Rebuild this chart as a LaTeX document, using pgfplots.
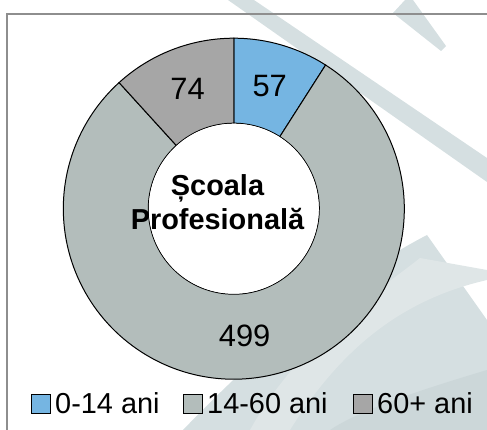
\documentclass[border=0pt]{standalone}
\usepackage{fontspec}
\setmainfont{Liberation Sans}
\newfontfamily\lsans{Liberation Sans}
\usepackage{pgfplots}
\usepackage{pgfplotstable}
\pgfplotsset{compat=1.18}
\definecolor{cA}{HTML}{75B5E2}
\definecolor{cB}{HTML}{B3BDBB}
\definecolor{cC}{HTML}{A6A6A6}
\definecolor{wm}{HTML}{D5DFE1}
\definecolor{wmlight}{HTML}{DFE6E7}
\definecolor{wmdark}{HTML}{CCD7D9}
\definecolor{framec}{HTML}{8E8E8E}

\pgfplotstableread{
label value
0-14 57
14-60 499
60+ 74
}\donutdata

\begin{document}
\begin{tikzpicture}
\path[use as bounding box] (0,0) rectangle (487bp,430bp);
\pgfplotstablegetelem{0}{value}\of\donutdata \edef\va{\pgfplotsretval}
\pgfplotstablegetelem{1}{value}\of\donutdata \edef\vb{\pgfplotsretval}
\pgfplotstablegetelem{2}{value}\of\donutdata \edef\vc{\pgfplotsretval}
\pgfmathsetmacro\tot{\va+\vb+\vc}
\pgfmathsetmacro\aA{90}
\pgfmathsetmacro\aB{\aA-360*(\va/\tot)}
\pgfmathsetmacro\aC{\aB-360*(\vb/\tot)}
\pgfmathsetmacro\aD{\aC-360*(\vc/\tot)}
\pgfmathsetmacro\mA{(\aA+\aB)/2}
\pgfmathsetmacro\mB{(\aB+\aC)/2}
\pgfmathsetmacro\mC{(\aC+\aD)/2}
\def\Ro{170.5bp}
\def\Ri{85.5bp}
\def\Rm{128bp}
\begin{axis}[scale only axis, width=487bp, height=430bp,
  xmin=0, xmax=487, ymin=0, ymax=430, hide axis, clip=true,
  at={(0,0)}, anchor=south west]
% watermark background
\fill[wm] (axis cs:228,430) -- (axis cs:254,430) -- (axis cs:487,272) -- (axis cs:487,248) -- cycle;
\fill[wm] (axis cs:393,417) -- (axis cs:405,430) -- (axis cs:413,430) -- (axis cs:446,384) -- (axis cs:441,379) -- cycle;
\fill[wm] (axis cs:427,195) .. controls (axis cs:340,150) and (axis cs:250,70) .. (axis cs:183,0) -- (axis cs:487,0) -- (axis cs:487,110) -- cycle;
\fill[wmlight] (axis cs:420,172) .. controls (axis cs:380,140) and (axis cs:300,90) .. (axis cs:250,0) -- (axis cs:290,0) .. controls (axis cs:340,80) and (axis cs:400,130) .. (axis cs:487,150) -- (axis cs:487,160) -- cycle;
\fill[wmdark] (axis cs:487,60) .. controls (axis cs:420,40) and (axis cs:360,20) .. (axis cs:330,0) -- (axis cs:487,0) -- cycle;
% frame
\draw[framec, line width=1.5bp] (axis cs:7,0) -- (axis cs:7,416) -- (axis cs:487,416);
% donut
\begin{scope}[shift={(axis cs:233.8,221.3)}]
\filldraw[fill=cA, draw=black, line width=1bp] (\aA:\Ro) arc[start angle=\aA, end angle=\aB, radius=\Ro] -- (\aB:\Ri) arc[start angle=\aB, end angle=\aA, radius=\Ri] -- cycle;
\filldraw[fill=cB, draw=black, line width=1bp] (\aB:\Ro) arc[start angle=\aB, end angle=\aC, radius=\Ro] -- (\aC:\Ri) arc[start angle=\aC, end angle=\aB, radius=\Ri] -- cycle;
\filldraw[fill=cC, draw=black, line width=1bp] (\aC:\Ro) arc[start angle=\aC, end angle=\aD, radius=\Ro] -- (\aD:\Ri) arc[start angle=\aD, end angle=\aC, radius=\Ri] -- cycle;
\fill[white] (0,0) circle[radius=\Ri-0.5bp];
\node[inner sep=0] at (\mA:\Rm) {\fontsize{31}{36}\selectfont\va};
\node[inner sep=0] at (\mB:\Rm) {\fontsize{31}{36}\selectfont\vb};
\node[inner sep=0] at (\mC:\Rm) {\fontsize{31}{36}\selectfont\vc};
\end{scope}
% centre label
\node[anchor=base, inner sep=0] at (axis cs:217.5,235) {\lsans\bfseries\fontsize{29}{34}\selectfont Școala};
\node[anchor=base, inner sep=0] at (axis cs:217.5,201) {\lsans\bfseries\fontsize{29}{34}\selectfont Profesională};
% legend
\draw[fill=cA, draw=black, line width=0.8bp] (axis cs:31,17) rectangle (axis cs:50,36);
\node[anchor=base west, inner sep=0] at (axis cs:55,17) {\fontsize{29}{34}\selectfont 0-14 ani};
\draw[fill=cB, draw=black, line width=0.8bp] (axis cs:183,17) rectangle (axis cs:202,36);
\node[anchor=base west, inner sep=0] at (axis cs:207,17) {\fontsize{29}{34}\selectfont 14-60 ani};
\draw[fill=cC, draw=black, line width=0.8bp] (axis cs:353,17) rectangle (axis cs:372,36);
\node[anchor=base west, inner sep=0] at (axis cs:377,17) {\fontsize{29}{34}\selectfont 60+ ani};
\end{axis}
\end{tikzpicture}
\end{document}
